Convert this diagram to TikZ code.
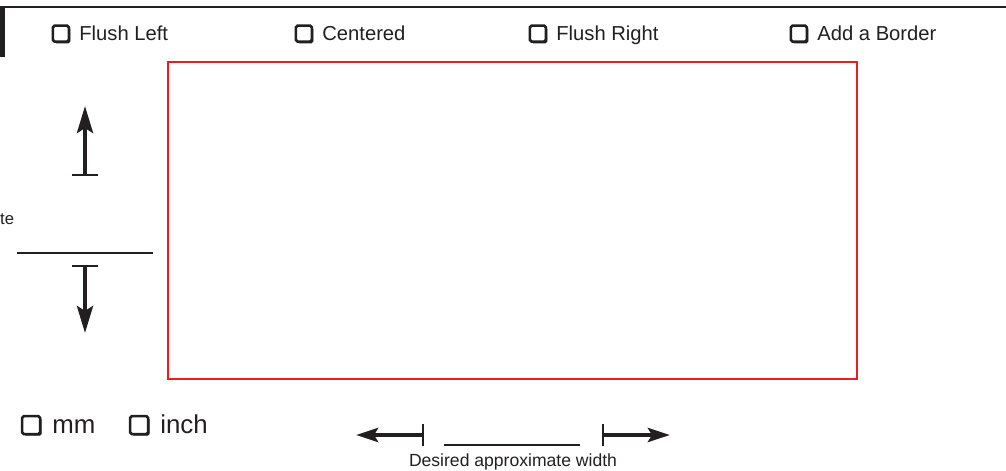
\documentclass[tikz,border=0pt]{standalone}
\usepackage{fontspec}
\setmainfont{Liberation Sans}
\usetikzlibrary{positioning,arrows.meta,shadows}
\definecolor{framered}{RGB}{237,28,36}
\definecolor{ink}{RGB}{35,31,32}

\begin{document}
\begin{tikzpicture}[x=0.02cm,y=-0.02cm]
  \tikzset{ chk/.style={draw=ink,fill=white,line width=1.5pt,rounded corners=1pt,inner sep=0pt,minimum size=0.32cm,
      drop shadow={shadow xshift=0.9pt,shadow yshift=-0.9pt,fill=ink,opacity=1}},
    opt/.style={inner sep=0pt,anchor=base west,text=ink,text height=0.72em,text depth=0pt,font=\fontsize{11.5}{13}\selectfont},
    unit/.style={opt,text height=0.9em,font=\fontsize{14.7}{16}\selectfont},
    bigarrow/.style={ink,line width=2.4pt,-{Stealth[length=0.54cm,width=0.32cm,inset=0.1cm]}},
    flatarrow/.style={ink,line width=2.4pt,-{Stealth[length=0.44cm,width=0.28cm,inset=0.08cm]}},
    bar/.style={ink,line width=1.2pt},
  }
  \useasboundingbox (0,0) rectangle (1006,470);

  % the header rule and the tab on the left
  \draw[ink,line width=1.4pt] (0,7) -- (1006,7);
  \fill[ink] (0,6) rectangle (5,57);

  % alignment options
  \node[opt] (fl) at (79,40)  {Flush Left};
  \node[opt] (ce) at (322,40) {Centered};
  \node[opt] (fr) at (556,40) {Flush Right};
  \node[opt] (ab) at (817,40) {Add a Border};
  \node[chk, left=5pt of fl] (cfl) {};
  \node[chk, left=5pt of ce] (cce) {};
  \node[chk, left=5pt of fr] (cfr) {};
  \node[chk, left=5pt of ab] (cab) {};

  % the frame
  \draw[framered,line width=1.2pt] (168,62) rectangle (857,379);

  % height
  \node[inner sep=0pt,anchor=base east,text=ink,font=\fontsize{9.5}{11}\selectfont] (ht) at (14.5,224) {te};
  \coordinate (upbase) at (85,175);
  \coordinate (uptip) at (85,106);
  \coordinate (dnbase) at (85,266);
  \coordinate (dntip) at (85,333);
  \coordinate (hl) at (17,253);
  \coordinate (hr) at (153,253);
  \draw[bigarrow] (upbase) -- (uptip);
  \draw[bigarrow] (dnbase) -- (dntip);
  \draw[bar] ([xshift=-0.26cm]upbase) -- ([xshift=0.26cm]upbase);
  \draw[bar] ([xshift=-0.26cm]dnbase) -- ([xshift=0.26cm]dnbase);
  \draw[bar] (hl) -- (hr);

  % units
  \node[unit] (mm) at (52,433) {mm};
  \node[unit] (in) at (160,433) {inch};
  \node[chk, left=6pt of mm, minimum size=0.36cm] (cmm) {};
  \node[chk, left=6pt of in, minimum size=0.36cm] (cin) {};

  % width
  \coordinate (lbase) at (423,435);
  \coordinate (ltip) at (356,435);
  \coordinate (rbase) at (603,435);
  \coordinate (rtip) at (670,435);
  \coordinate (wl) at (444,445);
  \coordinate (wr) at (580,445);
  \draw[flatarrow] (lbase) -- (ltip);
  \draw[flatarrow] (rbase) -- (rtip);
  \draw[bar] ([yshift=0.22cm]lbase) -- ([yshift=-0.22cm]lbase);
  \draw[bar] ([yshift=0.22cm]rbase) -- ([yshift=-0.22cm]rbase);
  \draw[bar] (wl) -- (wr);
  \node[inner sep=0pt,anchor=base,text=ink,font=\fontsize{10}{12}\selectfont] (wd) at (513,466.5) {Desired approximate width};
\end{tikzpicture}
\end{document}
